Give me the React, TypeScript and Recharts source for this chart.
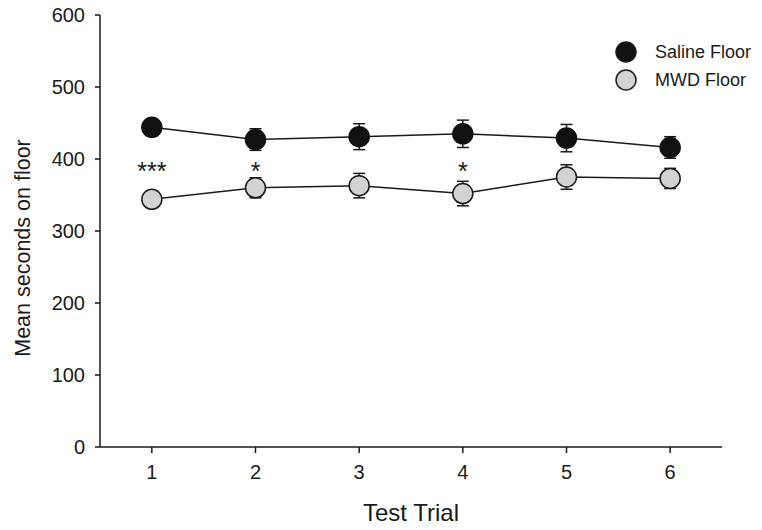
import { CartesianGrid, ErrorBar, Line, LineChart, ReferenceDot, XAxis, YAxis } from "recharts"

const trials = [1, 2, 3, 4, 5, 6]
const salineMean = [444, 427, 431, 435, 429, 416]
const salineSem = [6, 15, 18, 19, 19, 15]
const mwdMean = [344, 360, 363, 352, 375, 373]
const mwdSem = [8, 14, 17, 17, 17, 14]
const stars = ["***", "*", "", "*", "", ""]
const starLevel = 391
const yTicks = [0, 100, 200, 300, 400, 500, 600]

const data = trials.map((t, i) => ({
  trial: t,
  saline: salineMean[i],
  salineErr: salineSem[i],
  mwd: mwdMean[i],
  mwdErr: mwdSem[i],
}))

const font = "'Liberation Sans', Arial, Helvetica, sans-serif"
const ink = "#1a1a1a"

function YTitle(props: any) {
  const vb = props.viewBox || { x: 0, y: 0, width: 0, height: 0 }
  const x = vb.x + 30
  const y = vb.y + vb.height / 2 + 17
  return (
    <text x={x} y={y} transform={`rotate(-90, ${x}, ${y})`} textAnchor="middle" fontSize={21.5} fill={ink} fontFamily={font}>
      Mean seconds on floor
    </text>
  )
}

function LegendBox() {
  const rows = [
    { name: "Saline Floor", fill: "#111111" },
    { name: "MWD Floor", fill: "#d3d3d3" },
  ]
  return (
    <div style={{ position: "absolute", left: 612, top: 38, fontFamily: font, fontSize: 18, color: ink }}>
      {rows.map((r) => (
        <div key={r.name} style={{ display: "flex", alignItems: "center", height: 28 }}>
          <svg width={28} height={28}>
            <circle cx={14} cy={14} r={10} fill={r.fill} stroke={ink} strokeWidth={1.5} />
          </svg>
          <span style={{ marginLeft: 15 }}>{r.name}</span>
        </div>
      ))}
    </div>
  )
}

export default function App() {
  return (
    <div style={{ position: "absolute", left: 0, top: 0, width: 762, height: 530, background: "#fff" }}>
      <LineChart width={762} height={530} data={data} margin={{ top: 15, right: 40, bottom: 0, left: 0 }}>
        <CartesianGrid stroke="none" />
        <XAxis
          dataKey="trial"
          type="number"
          domain={[0.5, 6.5]}
          ticks={trials}
          height={83}
          tickSize={6}
          tickMargin={12}
          stroke={ink}
          strokeWidth={1.5}
          tick={{ fill: ink, fontSize: 20, fontFamily: font }}
          label={{ value: "Test Trial", position: "insideBottom", offset: 9, fontSize: 24, fill: ink, fontFamily: font }}
        />
        <YAxis
          type="number"
          domain={[0, 600]}
          ticks={yTicks}
          width={100}
          tickSize={5}
          tickMargin={10}
          stroke={ink}
          strokeWidth={1.5}
          tick={{ fill: ink, fontSize: 20, fontFamily: font }}
          label={<YTitle />}
        />
        <Line
          dataKey="saline"
          stroke={ink}
          strokeWidth={1.5}
          dot={{ r: 10, fill: "#111111", stroke: "#111111", strokeWidth: 1.5 }}
          activeDot={false}
          isAnimationActive={false}
        >
          <ErrorBar dataKey="salineErr" direction="y" width={6} stroke={ink} strokeWidth={1.5} />
        </Line>
        <Line
          dataKey="mwd"
          stroke={ink}
          strokeWidth={1.5}
          dot={{ r: 10, fill: "#d3d3d3", stroke: ink, strokeWidth: 1.5 }}
          activeDot={false}
          isAnimationActive={false}
        >
          <ErrorBar dataKey="mwdErr" direction="y" width={6} stroke={ink} strokeWidth={1.5} />
        </Line>
        {trials.map((t, i) =>
          stars[i] ? (
            <ReferenceDot
              key={t}
              x={t}
              y={starLevel}
              r={0}
              fill="none"
              stroke="none"
              ifOverflow="visible"
              label={{ value: stars[i], position: "center", fontSize: 25, fill: ink, fontFamily: font, dy: 6 }}
            />
          ) : null
        )}
      </LineChart>
      <LegendBox />
    </div>
  )
}
